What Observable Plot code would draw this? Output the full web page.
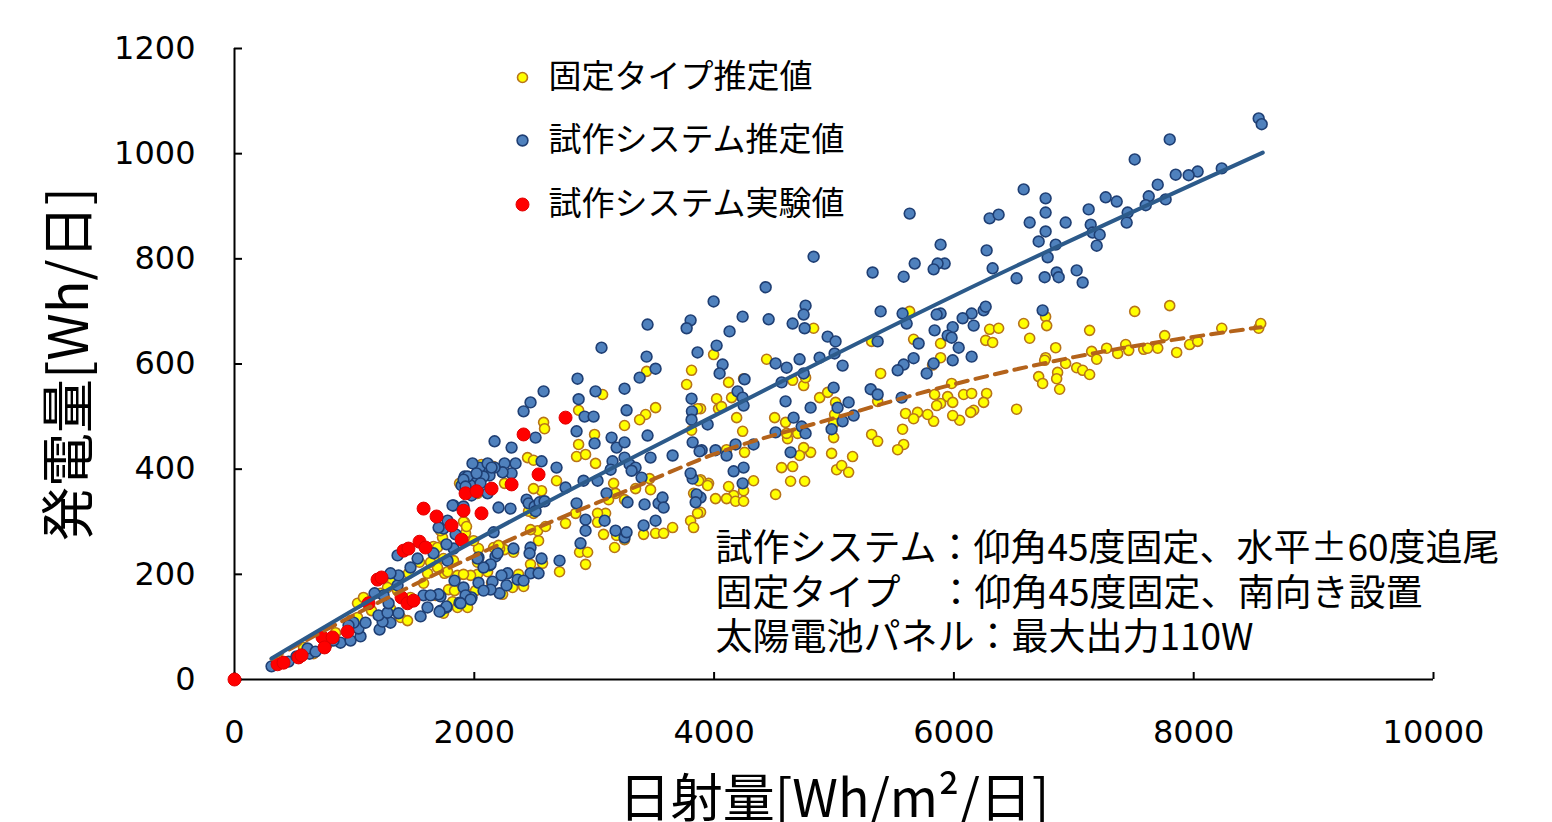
<!DOCTYPE html>
<html><head><meta charset="utf-8">
<script src="https://cdn.jsdelivr.net/npm/d3@7"></script>
<script src="https://cdn.jsdelivr.net/npm/@observablehq/plot@0.6"></script>
<style>body{margin:0;background:#fff;}</style>
</head><body><div id="chart"></div>
<script>
const xTicks = [0, 2000, 4000, 6000, 8000, 10000];
const yTicks = [0, 200, 400, 600, 800, 1000, 1200];
const xTitle = "日射量[Wh/m²/日]";
const yTitle = "発電量[Wh/日]";
const legendLabels = ["固定タイプ推定値", "試作システム推定値", "試作システム実験値"];
const noteLines = [
  "試作システム：仰角45度固定、水平±60度追尾",
  "固定タイプ　：仰角45度固定、南向き設置",
  "太陽電池パネル：最大出力110W"
];

// 固定タイプ推定値 [日射量, 発電量]
const fixedEstimate = [
[7508,700],[7800,711],[7132,664],[6582,677],[6765,690],[6774,673],[6298,666],[6373,668],[6265,645],[6323,641],
[6632,649],[5889,639],[5889,612],[6849,631],[6765,612],[6757,607],[6932,601],[7024,593],[7074,588],[7132,580],
[6707,576],[6865,584],[6857,572],[6740,563],[6882,552],[7149,624],[7191,609],[7274,630],[7366,620],[7433,637],
[7458,626],[7583,628],[7616,630],[7700,630],[7758,654],[7858,622],[7966,637],[8033,643],[8234,668],[8542,668],
[8559,677],[5981,563],[5948,538],[5990,527],[6081,542],[6148,544],[6273,544],[6248,527],[6165,512],[6140,508],
[6048,493],[5990,502],[6523,514],[5889,525],[5839,542],[5856,521],[5831,491],
[5631,700],[4830,668],[3996,618],[4438,609],[4655,569],[4747,559],[4763,574],[4246,572],[4121,565],[4021,534],
[4146,536],[4037,515],[4062,519],[3887,515],[5389,582],[5314,643],[5664,647],[5822,598],[4880,536],[4947,546],
[5013,527],[5364,529],[5597,506],[5697,508],[5664,496],[5781,504],[5572,476],[5314,466],[5364,453],[5581,447],
[5531,437],[5005,504],[4997,487],[4997,460],[5155,424],[4980,430],[4805,432],[4747,441],[4713,426],[4596,489],
[4505,498],[4613,458],[4697,468],[4605,468],[4188,498],[4238,472],[4254,432],[4104,437],[3954,373],[3887,380],
[4121,367],[4163,350],[4246,359],[4329,378],[4012,344],[4104,344],[4179,339],[4246,339],[4513,352],[4563,403],
[4655,405],[4638,377],[4755,377],[5022,399],[5064,407],[5122,394],[3887,318],
[3812,588],[3771,561],[3862,515],[3812,474],[3437,586],[3512,517],[3429,504],[3379,494],[3253,483],[3070,542],
[3003,466],[3011,411],[2870,512],[2853,424],[2928,428],[2870,447],[2578,489],[2586,477],[2444,422],[2494,417],
[2686,378],[2561,359],[2494,363],[2252,373],[2161,405],[2060,409],[3470,361],[3462,382],[3345,363],[3253,342],
[3120,342],[3162,373],[3178,354],[3095,316],[3028,316],[3028,299],[2845,316],[2761,297],[3078,276],[3187,274],
[3170,251],[3253,266],[3412,276],[3512,278],[3579,278],[3654,289],[3804,302],[3829,289],[3862,316],[3871,378],
[3946,369],[3829,354],[2878,242],[2945,242],[2928,219],[2711,205],[2536,264],[2528,283],[2469,285],[2594,291],
[2494,316],[2453,320],[2327,242],[2252,247],[2211,249],[2035,249],[1994,264],[1927,278],[1919,299],[2027,200],
[2111,205],[2144,184],[2236,162],[2319,175],[2411,177],[2528,204],[2569,221],[2469,219],[2369,200],[2010,169],
[1927,164],[1785,171],[1752,202],
[1660,253],[1677,226],[1735,270],[1743,230],[1860,198],[1969,198],[1910,300],[1935,291],[1944,373],[2002,382],
[1835,169],[1693,213],[1318,188],[1276,175],[1360,169],[1218,164],[1610,202],[1577,183],[1385,118],[1026,118],
[968,112],[1026,145],[1076,156],[1677,160],[1819,148],[1860,137],[1944,137],[1743,126],[1443,112],[659,49],
[776,68],[576,61],[1718,283],[1877,373],[2027,354],[1693,251],[1635,223],[1827,226],[2027,223],[1910,200],
[1777,205],[1543,223],[2161,251],[2202,255],[1451,202],[843,89],[1143,131],[1301,135],[1468,156],[384,36],[551,46]
];

// 試作システム推定値
const prototypeEstimate = [
[8542,1067],[8567,1056],[7800,1027],[7508,989],[8033,966],[7958,959],[7850,960],[8234,972],[7700,941],[7625,919],
[7600,902],[7766,913],[7266,917],[7358,909],[7449,888],[7441,869],[7124,894],[7141,865],[7157,850],[7216,846],
[7191,825],[6765,915],[6582,932],[6298,877],[6373,884],[6632,869],[6765,888],[6932,869],[6765,852],[6707,833],
[6849,827],[6782,803],[6273,816],[6323,782],[6523,763],[6757,765],[6857,774],[6874,765],[7024,778],[7074,755],
[5889,827],[5923,791],[5889,696],[6248,702],[6265,709],[6148,696],[6073,687],[6165,673],[5990,670],[5948,654],
[5981,650],[6040,631],[6148,614],[5990,607],[6740,702],
[5631,886],[4830,804],[5673,791],[5864,791],[5831,780],[5322,774],[5581,766],
[4430,746],[3996,719],[4763,711],[4747,694],[4238,690],[4455,685],[4655,677],[4755,668],[4129,662],[4947,652],
[5013,643],[4021,635],[5389,700],[5572,696],[5606,677],[5856,694],[5839,664],[5706,639],[5364,643],[4713,609],
[4513,601],[4605,593],[4880,612],[5005,620],[5072,597],[4747,582],[4563,565],[4254,571],[4071,599],[4046,582],
[5664,611],[5581,599],[5531,588],[5773,582],[5831,601],[4196,548],[4238,536],[4246,521],[4997,555],[5306,552],
[5364,542],[5564,536],[4596,529],[4805,517],[5122,527],[5030,517],[4663,498],[5164,502],[5072,491],[4980,476],
[4730,481],[4763,468],[4513,470],[3946,485],[4179,447],[4329,447],[3896,436],[4012,436],[4104,426],[4638,432],
[4246,403],[4163,396],[4238,373],[3887,346],
[3445,675],[3804,683],[3771,668],[3061,631],[3437,614],[3862,622],[3512,591],[3379,574],[2861,572],[2578,548],
[3253,553],[3011,548],[2411,510],[2469,527],[2870,533],[3270,512],[2920,500],[2995,500],[3812,534],[3815,510],
[3812,494],[2169,453],[2311,441],[2511,460],[2853,472],[3003,449],[3145,460],[3187,441],[3253,451],[3445,464],
[3821,451],[3879,434],[3654,426],[3470,422],[3253,422],[3153,415],[3295,409],[3345,403],[3395,384],[3312,397],
[3137,399],[3028,378],[2911,378],[2761,365],[2686,403],[2561,415],[2344,411],[2252,411],[2311,392],[2236,394],
[2169,403],[2111,397],[2044,403],[1985,411],[2127,388],[1919,386],[1952,378],[2019,375],[2077,386],[1969,369],
[1894,369],[2202,327],[2302,325],[2436,342],[2453,335],[2503,329],[2544,337],[2586,339],[2511,320],[2853,335],
[2928,304],[2928,283],[3087,302],[3103,354],[3278,337],[3420,333],[3537,335],[3570,346],[3579,327],[3512,302],
[3412,293],[3253,270],[3178,283],[3270,280],[2886,259],[2711,226],[3854,352],[3846,337],[3821,382],[3804,392],
[2469,251],[2461,240],[2561,230],[2327,249],[2177,234],[2035,232],[2127,217],[2277,202],[2227,198],[2361,190],
[2469,202],[2536,202],[2035,184],[2152,186],[2211,164],[2136,171],[2077,169],[1977,156],[1910,175],[2411,188],
[2269,179],[1835,188],[1927,160],[1969,152],[1877,146],[1768,137],[1718,131],[1718,158],
[309,25],[626,49],[609,59],[676,53],[884,70],[968,74],[1051,82],[1034,97],[1093,108],[993,108],
[951,103],[1210,95],[1301,108],[1235,110],[1201,122],[1276,127],[1368,126],[1285,145],[1243,160],[1168,164],
[1360,179],[1368,198],[1301,202],[1468,213],[1527,230],[1660,240],[1577,160],[1610,137],[1702,162],[1635,160],
[1768,139],[1710,129],[1552,120],[1885,145],[1777,226],[1827,249],[1743,287],[1702,289],[1777,302],[1827,331],
[1910,329],[1977,350],[1944,386],[2019,392],[1910,380],[2052,373],
[2111,411],[2144,403],[1927,367],[2111,354],[1819,331],[1844,276],[1768,257],[1360,236],[2161,280],[2136,219],
[2077,213],[2027,230],[2194,240],[451,34],[517,44],[759,65],[826,74]
];

// 試作システム実験値
const prototypeMeasured = [
[0,0],[359,29],[409,32],[534,42],[559,46],[734,80],[818,80],[751,61],[943,91],[1118,145],
[1193,190],[1226,194],[1393,156],[1443,145],[1493,150],[1410,245],[1451,249],[1543,262],[1593,251],[1577,325],
[1685,310],[1810,293],[1894,266],[1910,321],[1927,354],[2019,358],[2144,363],[2060,316],[2311,371],[2411,466],
[2536,390],[2761,498]
];

// 近似曲線
const prototypeTrend = [[309,40],[1885,249],[3971,498],[6056,736],[8576,1002]];
const fixedTrend = [[309,39],[1000,123],[1693,202],[2500,286],[3300,362],[3971,426],[5000,497],[5889,555],[7000,613],[8559,670]];

const jp = "'Noto Sans CJK JP', 'Noto Sans', sans-serif";
const num = "'DejaVu Sans', sans-serif";
const W = 1552, H = 822, mL = 234, mR = 119, mT = 48, mB = 143;
const frameW = W - mL - mR;

const styles = {
  fixed: {r: 5, fill: "#FFFF00", stroke: "#B8741A", strokeWidth: 1.6},
  proto: {r: 5.4, fill: "#4F81BD", stroke: "#1F3F74", strokeWidth: 1.6},
  meas: {r: 6.5, fill: "#FF0000", stroke: "#E00000", strokeWidth: 1}
};
const legendStyles = [styles.fixed, styles.proto, styles.meas];
const legendDy = [29, 92, 156];
const noteDy = [501, 546, 590];

const chart = Plot.plot({
  width: W, height: H,
  marginLeft: mL, marginRight: mR, marginTop: mT, marginBottom: mB,
  x: {domain: [0, 10000]},
  y: {domain: [0, 1200]},
  style: {fontFamily: jp, background: "#fff", color: "#000"},
  marks: [
    Plot.axisX({ticks: xTicks, tickSize: 0, tickPadding: 41, tickFormat: d => String(d), fontSize: 32, fontFamily: num, label: null, fill: "#000"}),
    Plot.axisY({ticks: yTicks, tickSize: 0, tickPadding: 39, tickFormat: d => String(d), fontSize: 32, fontFamily: num, label: null, fill: "#000"}),
    Plot.tickX(xTicks, {x: d => d, insetTop: (H - mT - mB) - 7, stroke: "#000", strokeWidth: 2}),
    Plot.tickY(yTicks, {y: d => d, insetRight: frameW - 8, stroke: "#000", strokeWidth: 2}),
    Plot.ruleY([0], {stroke: "#000", strokeWidth: 2}),
    Plot.ruleX([0], {stroke: "#000", strokeWidth: 2}),
    Plot.dot(fixedEstimate, {x: d => d[0], y: d => d[1], ...styles.fixed}),
    Plot.dot(prototypeEstimate, {x: d => d[0], y: d => d[1], ...styles.proto}),
    Plot.dot(prototypeMeasured, {x: d => d[0], y: d => d[1], ...styles.meas}),
    Plot.line(fixedTrend, {x: d => d[0], y: d => d[1], curve: "monotone-x", stroke: "#B4631B", strokeWidth: 4, strokeDasharray: "12,8"}),
    Plot.line(prototypeTrend, {x: d => d[0], y: d => d[1], curve: "monotone-x", stroke: "#2C5A8A", strokeWidth: 4}),
    ...legendLabels.map((t, i) => Plot.dot([t], {frameAnchor: "top-left", dx: 288, dy: legendDy[i], ...legendStyles[i]})),
    ...legendLabels.map((t, i) => Plot.text([t], {text: d => d, frameAnchor: "top-left", dx: 314, dy: legendDy[i], textAnchor: "start", lineAnchor: "middle", fontSize: 33, fill: "#000"})),
    ...noteLines.map((t, i) => Plot.text([t], {text: d => d, frameAnchor: "top-left", dx: 481, dy: noteDy[i], textAnchor: "start", lineAnchor: "middle", fontSize: 37, fill: "#000"})),
    Plot.text([yTitle], {text: d => d, frameAnchor: "left", dx: -164, rotate: -90, textAnchor: "middle", lineAnchor: "middle", fontSize: 54, fill: "#000"}),
    Plot.text([xTitle], {text: d => d, frameAnchor: "bottom", dy: 137, fontSize: 52, fill: "#000"})
  ]
});
document.getElementById("chart").appendChild(chart);
</script>
</body></html>
